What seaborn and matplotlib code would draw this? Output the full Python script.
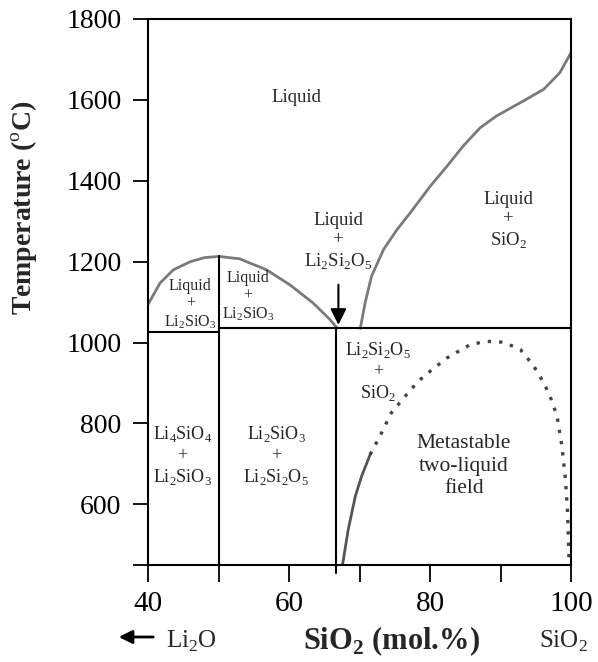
import numpy as np
import pandas as pd
import matplotlib
matplotlib.use("Agg")
import matplotlib.pyplot as plt
import seaborn as sns

# liquidus dome over Li2SiO3 (mol.% SiO2, deg C)
dome_x = [40.0, 41.7, 43.6, 46.0, 48.0, 50.0, 53.0, 56.8, 60.1, 63.4, 65.8, 66.8]
dome_t = [1094, 1147, 1180, 1200, 1210, 1213, 1207, 1180, 1143, 1098, 1057, 1036]

# SiO2 liquidus
liq_x = [70.1, 70.8, 71.7, 73.4, 75.3, 77.2, 80.0, 82.4, 84.7, 87.1, 89.4, 93.2, 96.1, 98.4, 100.0]
liq_t = [1035, 1099, 1164, 1230, 1279, 1321, 1386, 1436, 1486, 1531, 1560, 1597, 1626, 1667, 1717]

# immiscibility boundary, solid part
imm_solid_x = [67.6, 68.4, 69.4, 70.3, 71.5]
imm_solid_t = [452, 538, 620, 670, 723]

# metastable two-liquid dome, dotted part
imm_dot_x = [71.5, 72.9, 74.5, 76.7, 78.3, 80.0, 82.4, 85.7, 88.0, 90.4, 92.8, 94.7,
             96.1, 97.0, 98.0, 98.7, 99.2, 99.5, 99.7]
imm_dot_t = [723, 769, 826, 872, 904, 929, 962, 995, 1003, 1001, 983, 942,
             901, 868, 819, 744, 662, 580, 465]

eutectic_left = 1025
eutectic_right = 1035
x_ticks = [40, 50, 60, 70, 80, 90, 100]
x_labels = ["40", "", "60", "", "80", "", "100"]
y_ticks = [450, 600, 800, 1000, 1200, 1400, 1600, 1800]
y_labels = ["", "600", "800", "1000", "1200", "1400", "1600", "1800"]

sns.set_theme(style="white")
plt.rcParams["font.family"] = ["Liberation Serif", "DejaVu Serif"]
plt.rcParams["mathtext.fontset"] = "custom"
plt.rcParams["mathtext.rm"] = "Liberation Serif"
plt.rcParams["mathtext.bf"] = "Liberation Serif:bold"

fig = plt.figure(figsize=(5.98, 6.62), dpi=100)
ax = fig.add_axes([0.2475, 0.1465, 0.7075, 0.8248])

curve = "#7a7a7a"
sns.lineplot(x=dome_x, y=dome_t, sort=False, estimator=None, color=curve, lw=2, ax=ax)
sns.lineplot(x=liq_x, y=liq_t, sort=False, estimator=None, color=curve, lw=2, ax=ax)
sns.lineplot(x=imm_solid_x, y=imm_solid_t, sort=False, estimator=None, color="#555555", lw=2, ax=ax)
sns.lineplot(x=imm_dot_x, y=imm_dot_t, sort=False, estimator=None, color="#444444", lw=2.4,
             ax=ax, linestyle=(0, (1, 2.4)))

# phase boundaries
ax.plot([40, 50], [eutectic_left] * 2, color="black", lw=1.5)
ax.plot([50, 100], [eutectic_right] * 2, color="black", lw=1.5)
ax.plot([50, 50], [450, 1213], color="black", lw=1.5)
ax.plot([66.7, 66.7], [430, eutectic_right], color="black", lw=1.5, clip_on=False)

ax.annotate("", xy=(67.0, 1037), xytext=(67.0, 1150),
            arrowprops=dict(arrowstyle="-|>", color="black", lw=1.5, mutation_scale=24))

ax.set_xlim(40, 100)
ax.set_ylim(450, 1800)
ax.set_xticks(x_ticks)
ax.set_xticklabels(x_labels)
ax.set_yticks(y_ticks)
ax.set_yticklabels(y_labels)
ax.tick_params(axis="both", direction="out", width=1.3, color="black",
               labelcolor="black", bottom=True, left=True)
ax.tick_params(axis="x", length=12, labelsize=21, pad=7)
ax.tick_params(axis="y", length=11, labelsize=20, pad=8)
for s in ax.spines.values():
    s.set_visible(True)
    s.set_color("black")
    s.set_linewidth(1.5)

ax.set_ylabel("Temperature ($^\\mathrm{o}$C)", fontsize=20, fontweight="bold")
ax.yaxis.set_label_coords(-0.255, 0.654)

ax.text(61, 1607, "Liquid", fontsize=13.5, ha="center", va="center")
ax.text(91.1, 1301, "Liquid\n+\nSiO$_2$", fontsize=13.5, ha="center", va="center", linespacing=1.2)
ax.text(67.0, 1249, "Liquid\n+\nLi$_2$Si$_2$O$_5$", fontsize=13.5, ha="center", va="center", linespacing=1.2)
ax.text(46.0, 1094, "Liquid\n+\nLi$_2$SiO$_3$", fontsize=11.5, ha="center", va="center", linespacing=1.1)
ax.text(54.2, 1114, "Liquid\n+\nLi$_2$SiO$_3$", fontsize=11.5, ha="center", va="center", linespacing=1.1)
ax.text(72.6, 928, "Li$_2$Si$_2$O$_5$\n+\nSiO$_2$", fontsize=13, ha="center", va="center", linespacing=1.2)
ax.text(44.9, 721, "Li$_4$SiO$_4$\n+\nLi$_2$SiO$_3$", fontsize=13, ha="center", va="center", linespacing=1.2)
ax.text(58.2, 721, "Li$_2$SiO$_3$\n+\nLi$_2$Si$_2$O$_5$", fontsize=13, ha="center", va="center", linespacing=1.2)
ax.text(84.8, 694, "Metastable\ntwo-liquid\nfield", fontsize=15.5, ha="center", va="center", linespacing=1.25)

# axis caption row
fig.text(391 / 598, 1 - 641 / 662, "SiO$_\\mathbf{2}$ (mol.%)", fontsize=22, fontweight="bold",
         ha="center", va="center")
fig.text(166 / 598, 1 - 641 / 662, "Li$_2$O", fontsize=18, ha="left", va="center")
fig.text(539 / 598, 1 - 641 / 662, "SiO$_2$", fontsize=18, ha="left", va="center")
fig.add_artist(matplotlib.patches.FancyArrowPatch(
    (156 / 598, 1 - 637 / 662), (116 / 598, 1 - 637 / 662), transform=fig.transFigure,
    arrowstyle="-|>", mutation_scale=20, lw=2, color="black"))

fig.savefig("out.png", dpi=100)
